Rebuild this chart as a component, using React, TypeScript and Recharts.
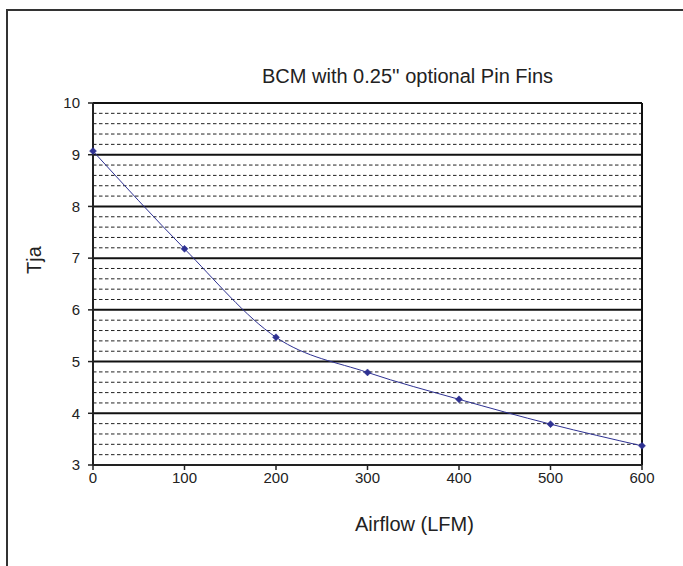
import React from "react";
import { LineChart, Line, XAxis, YAxis, ReferenceLine } from "recharts";

const airflow = [0, 100, 200, 300, 400, 500, 600];
const tja = [9.07, 7.18, 5.47, 4.79, 4.27, 3.79, 3.37];
const xTicks = [0, 100, 200, 300, 400, 500, 600];
const yTicks = [3, 4, 5, 6, 7, 8, 9, 10];

// dashed minor lines every 0.2 between the integer ticks
const minorLines: number[] = [];
for (let v = 3; v < 10; v++) {
  for (let k = 1; k <= 4; k++) minorLines.push(Number((v + k * 0.2).toFixed(1)));
}

const data = airflow.map((x, i) => ({ x, tja: tja[i] }));

const FONT = "'Liberation Sans', Arial, sans-serif";
const NAVY = "#2E3192";
const INK = "#222";

function Diamond(props: any) {
  const { cx, cy, index } = props;
  if (cx == null || cy == null) return null;
  const r = 3.5;
  return (
    <path
      key={`d-${index}`}
      d={`M${cx},${cy - r} L${cx + r},${cy} L${cx},${cy + r} L${cx - r},${cy} Z`}
      fill={NAVY}
      stroke={NAVY}
      strokeWidth={0.5}
    />
  );
}

export default function App() {
  return (
    <div style={{ position: "absolute", left: 0, top: 0, width: 683, height: 566, background: "#fff" }}>
      <LineChart
        width={683}
        height={566}
        data={data}
        margin={{ top: 103, right: 41, bottom: 71, left: 33 }}
      >
        {minorLines.map((v) => (
          <ReferenceLine key={`m-${v}`} y={v} stroke={INK} strokeWidth={1} strokeDasharray="3.5 2.5" />
        ))}
        {yTicks.slice(1).map((v) => (
          <ReferenceLine key={`M-${v}`} y={v} stroke="#111" strokeWidth={2} />
        ))}
        <ReferenceLine x={600} stroke="#111" strokeWidth={2} />
        <XAxis
          dataKey="x"
          type="number"
          domain={[0, 600]}
          ticks={xTicks}
          interval={0}
          height={30}
          tickSize={5}
          axisLine={{ stroke: INK, strokeWidth: 2 }}
          tickLine={{ stroke: INK, strokeWidth: 1.5 }}
          tick={{ fill: INK, fontSize: 15, fontFamily: FONT }}
        />
        <YAxis
          type="number"
          domain={[3, 10]}
          ticks={yTicks}
          interval={0}
          width={60}
          tickSize={5}
          tickMargin={8}
          axisLine={{ stroke: INK, strokeWidth: 2 }}
          tickLine={{ stroke: INK, strokeWidth: 1.5 }}
          tick={{ fill: INK, fontSize: 15, fontFamily: FONT }}
        />
        <Line
          type="monotone"
          dataKey="tja"
          stroke={NAVY}
          strokeWidth={1}
          dot={Diamond}
          activeDot={false}
          isAnimationActive={false}
        />
      </LineChart>
      <svg
        width={683}
        height={566}
        style={{ position: "absolute", left: 0, top: 0, pointerEvents: "none" }}
      >
        <path d="M7,566 L7,10 L683,10" fill="none" stroke="#333" strokeWidth={2} />
        <text x={262} y={83} fontSize={20} fontFamily={FONT} fill={INK}>
          BCM with 0.25'' optional Pin Fins
        </text>
        <text x={355} y={531} fontSize={20} fontFamily={FONT} fill={INK}>
          Airflow (LFM)
        </text>
        <text
          x={41}
          y={260}
          fontSize={20}
          fontFamily={FONT}
          fill={INK}
          textAnchor="middle"
          transform="rotate(-90 41 260)"
        >
          Tja
        </text>
      </svg>
    </div>
  );
}
